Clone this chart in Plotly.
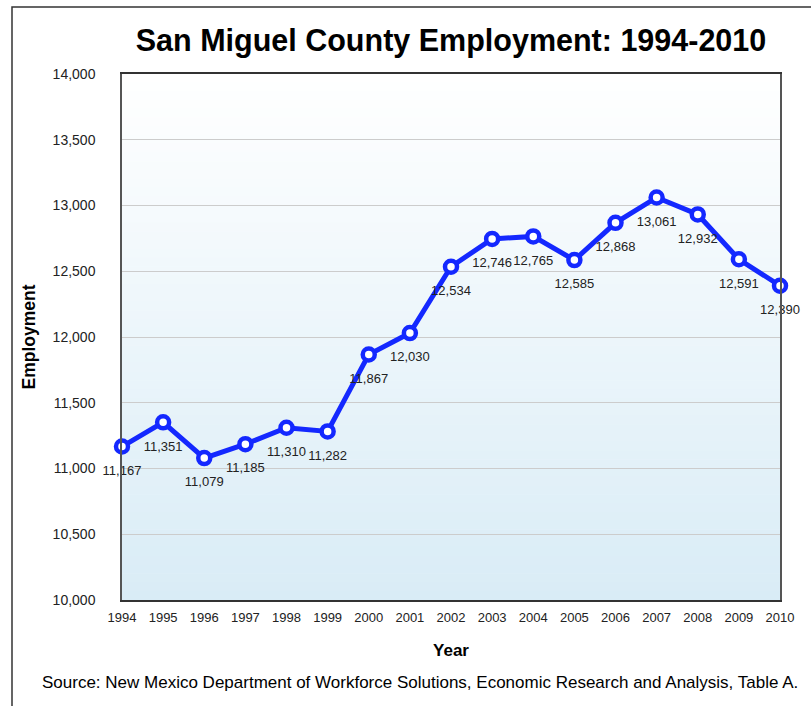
import plotly.graph_objects as go

years = [1994, 1995, 1996, 1997, 1998, 1999, 2000, 2001, 2002, 2003, 2004, 2005, 2006, 2007, 2008, 2009, 2010]
employment = [11167, 11351, 11079, 11185, 11310, 11282, 11867, 12030, 12534, 12746, 12765, 12585, 12868, 13061, 12932, 12591, 12390]
labels = [f"{v:,}" for v in employment]
y_ticks = [10000, 10500, 11000, 11500, 12000, 12500, 13000, 13500, 14000]
y_ticktext = [f"{v:,}" for v in y_ticks]

FONT = "Liberation Sans, Arial, sans-serif"
BLUE = "#1428ff"
W, H = 811, 706
ML, MR, MT, MB = 122, 31, 74, 106
PW, PH = W - ML - MR, H - MT - MB

fig = go.Figure()
fig.add_trace(go.Scatter(
    x=years, y=employment, mode="lines+markers",
    line=dict(color=BLUE, width=5),
    marker=dict(size=12, color="white", line=dict(color=BLUE, width=4.5)),
    cliponaxis=False, showlegend=False, hoverinfo="skip",
))
# data labels (transparent larger markers push labels further below the points)
fig.add_trace(go.Scatter(
    x=years, y=employment, mode="markers+text",
    text=labels, textposition="bottom center",
    textfont=dict(family=FONT, size=13, color="#222"),
    marker=dict(size=28, color="rgba(0,0,0,0)"),
    cliponaxis=False, showlegend=False,
))

shapes = []
n = 60
top = (255, 255, 255)
bot = (217, 236, 246)
for i in range(n):
    t = (i + 0.5) / n
    c = tuple(round(top[k] + (bot[k] - top[k]) * t) for k in range(3))
    shapes.append(dict(type="rect", xref="x domain", yref="y domain",
                       x0=0, x1=1, y0=1 - (i + 1) / n, y1=1 - i / n + 0.001,
                       fillcolor=f"rgb{c}", line=dict(width=0), layer="below"))
# outer frame
shapes.append(dict(type="rect", xref="paper", yref="paper",
                   x0=(12 - ML) / PW, x1=1.2, y0=-0.4, y1=1 + (MT - 7) / PH,
                   line=dict(color="#333", width=1.5), fillcolor="rgba(0,0,0,0)", layer="above"))

fig.update_layout(
    width=W, height=H,
    margin=dict(l=ML, r=MR, t=MT, b=MB),
    paper_bgcolor="white", plot_bgcolor="rgba(0,0,0,0)",
    shapes=shapes,
    title=dict(text="<b>San Miguel County Employment: 1994-2010</b>",
               x=(ML + PW / 2) / W, xanchor="center", y=1 - 40 / H, yanchor="middle",
               font=dict(family=FONT, size=30.5, color="black")),
    annotations=[dict(text="Source: New Mexico Department of Workforce Solutions, Economic Research and Analysis, Table A.",
                      xref="paper", yref="paper", x=(420 - ML) / PW, y=-(682 - MT - PH) / PH,
                      xanchor="center", yanchor="middle", showarrow=False,
                      font=dict(family=FONT, size=17, color="black"))],
)
fig.update_xaxes(
    range=[1994, 2010], tickvals=years, ticktext=[str(y) for y in years],
    showgrid=False, zeroline=False, showline=True, mirror=True, linecolor="#333", linewidth=1.5,
    ticks="", ticklabelstandoff=5, tickfont=dict(family=FONT, size=13, color="#222"),
    title=dict(text="<b>Year</b>", font=dict(family=FONT, size=17, color="black"), standoff=20),
)
fig.update_yaxes(
    range=[10000, 14000], tickvals=y_ticks, ticktext=y_ticktext,
    showgrid=True, gridcolor="#cccccc", gridwidth=1, zeroline=False,
    showline=True, mirror=True, linecolor="#555", linewidth=1.5,
    ticks="", ticklabelstandoff=22, tickfont=dict(family=FONT, size=14, color="#222"),
    title=dict(text="<b>Employment</b>", font=dict(family=FONT, size=17.5, color="black"), standoff=12),
)
fig.write_html("out.html", config={"displayModeBar": False},
               post_script="document.body.style.margin='0px';")
